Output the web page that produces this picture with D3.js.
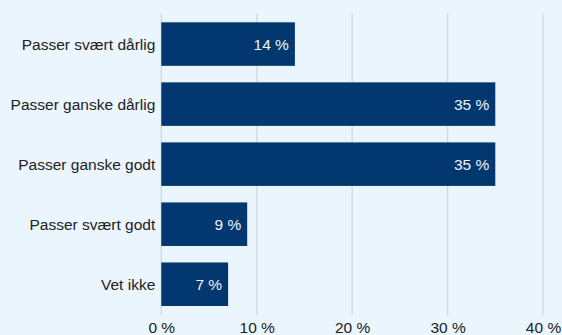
<!DOCTYPE html>
<html><head><meta charset="utf-8">
<script src="https://cdn.jsdelivr.net/npm/d3@7"></script>
<style>
html,body{margin:0;padding:0;background:#eaf5fe;}
svg{display:block;font-family:"Liberation Sans",Arial,Helvetica,sans-serif;}
</style></head><body>
<svg id="c" width="562" height="335"></svg>
<script>
const categories = ["Passer svært dårlig","Passer ganske dårlig","Passer ganske godt","Passer svært godt","Vet ikke"];
const values = [14, 35, 35, 9, 7];
const valueLabels = ["14 %","35 %","35 %","9 %","7 %"];
const tickValues = [0, 10, 20, 30, 40];
const tickLabels = ["0 %","10 %","20 %","30 %","40 %"];

const svg = d3.select("#c");
svg.append("rect").attr("width",562).attr("height",335).attr("fill","#eaf5fe");

const x = d3.scaleLinear().domain([0,40]).range([161.3,543]);
const y = d3.scaleBand().domain(categories).range([13.3,315]).paddingInner(0.275).paddingOuter(0.15);

// gridlines
svg.append("g").selectAll("line").data(tickValues).join("line")
  .attr("x1",d=>x(d)).attr("x2",d=>x(d))
  .attr("y1",13.3).attr("y2",315)
  .attr("stroke","#d3d7db").attr("stroke-width",1.3);

// bars
svg.append("g").selectAll("rect").data(values).join("rect")
  .attr("x",x(0)).attr("y",(d,i)=>y(categories[i]))
  .attr("width",d=>x(d)-x(0)).attr("height",y.bandwidth())
  .attr("fill","#03376f");

// value labels
svg.append("g").selectAll("text").data(values).join("text")
  .attr("x",d=>x(d)-6).attr("y",(d,i)=>y(categories[i])+y.bandwidth()/2)
  .attr("dy","0.36em").attr("text-anchor","end")
  .attr("font-size","15.5px").attr("fill","#eef3f8")
  .text((d,i)=>valueLabels[i]);

// category labels
svg.append("g").selectAll("text").data(categories).join("text")
  .attr("x",x(0)-6).attr("y",d=>y(d)+y.bandwidth()/2)
  .attr("dy","0.36em").attr("text-anchor","end")
  .attr("font-size","15.5px").attr("fill","#222")
  .text(d=>d);

// x tick labels
const xAxis = d3.axisBottom(x).tickValues(tickValues).tickFormat((d,i)=>tickLabels[i]).tickSize(0).tickPadding(0);
const gx = svg.append("g").attr("transform","translate(0,322)").call(xAxis);
gx.select(".domain").remove();
gx.selectAll("text").attr("font-size","15.5px").attr("fill","#222")
  .attr("font-family","'Liberation Sans',Arial,Helvetica,sans-serif").attr("dy","0.72em");
</script>
</body></html>
